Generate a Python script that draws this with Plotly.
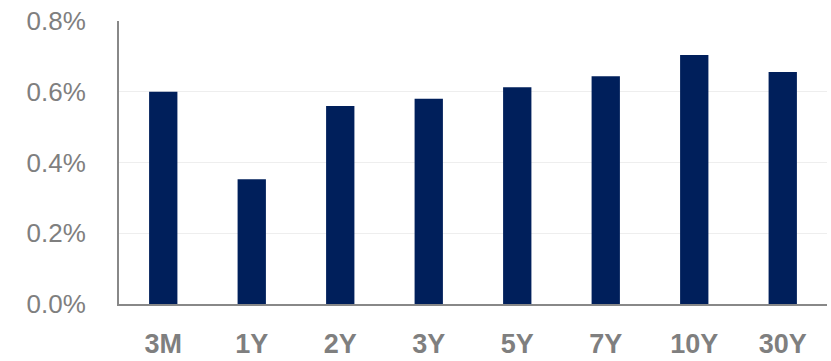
import plotly.graph_objects as go

categories = ["3M", "1Y", "2Y", "3Y", "5Y", "7Y", "10Y", "30Y"]
values = [0.0060, 0.00353, 0.0056, 0.0058, 0.00613, 0.00644, 0.00704, 0.00656]
y_ticks = [0, 0.002, 0.004, 0.006, 0.008]

fig = go.Figure(go.Bar(x=categories, y=values, marker=dict(color="#001F5B", line=dict(width=0)), width=0.32))

fig.update_layout(
    width=831, height=361,
    margin=dict(l=119, r=4, t=21, b=57),
    plot_bgcolor="white", paper_bgcolor="white",
    showlegend=False,
    font=dict(family="Liberation Sans, Arial", color="#7f7f7f"),
)
fig.update_yaxes(range=[0, 0.008], tickvals=y_ticks, tickformat=".1%",
                 showgrid=True, gridcolor="#eeeeee", gridwidth=1,
                 showline=True, linecolor="#888888", linewidth=2,
                 tickfont=dict(size=26, color="#7f7f7f"), ticks="", ticklabelstandoff=26,
                 zeroline=False, automargin=False)
fig.update_xaxes(showline=True, linecolor="#888888", linewidth=2,
                 tickfont=dict(size=27, color="#7f7f7f", family="Liberation Sans", weight="bold"),
                 ticks="", ticklabelstandoff=15, automargin=False)

fig.write_html("out.html")
